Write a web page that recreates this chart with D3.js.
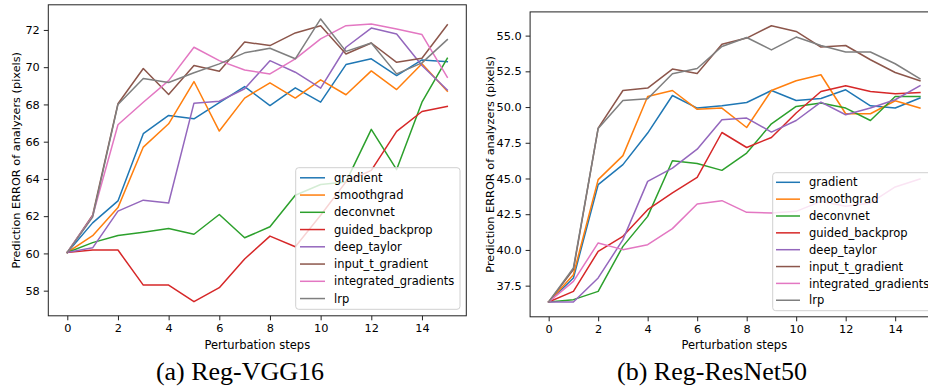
<!DOCTYPE html>
<html>
<head>
<meta charset="utf-8">
<script src="https://cdn.jsdelivr.net/npm/d3@7"></script>
<style>
  html, body { margin: 0; padding: 0; background: #fff; }
  svg { display: block; }
  text { font-family: "DejaVu Sans", sans-serif; fill: #000; }
</style>
</head>
<body>
<svg id="chart" width="928" height="389"></svg>
<script>
// ---------------- DATA ----------------
const steps = [0, 1, 2, 3, 4, 5, 6, 7, 8, 9, 10, 11, 12, 13, 14, 15];
const methods = ["gradient", "smoothgrad", "deconvnet", "guided_backprop",
                 "deep_taylor", "input_t_gradient", "integrated_gradients", "lrp"];
const colors = ["#1f77b4", "#ff7f0e", "#2ca02c", "#d62728",
                "#9467bd", "#8c564b", "#e377c2", "#7f7f7f"];

// (a) Reg-VGG16
const vggGradient   = [60.05, 61.64, 62.82, 66.43, 67.41, 67.23, 68.10, 68.96, 67.94, 68.89, 68.12, 70.14, 70.45, 69.55, 70.39, 70.30];
const vggSmoothgrad = [60.05, 60.95, 62.46, 65.71, 66.96, 69.23, 66.57, 68.34, 69.16, 68.34, 69.32, 68.52, 69.80, 68.80, 70.18, 68.71];
const vggDeconvnet  = [60.05, 60.58, 60.96, 61.14, 61.34, 61.03, 62.09, 60.84, 61.43, 63.12, 63.70, 63.84, 66.66, 64.50, 68.12, 70.48];
const vggGuided     = [60.05, 60.18, 60.18, 58.30, 58.30, 57.41, 58.16, 59.70, 60.93, 60.36, 62.05, 63.84, 64.46, 66.55, 67.62, 67.89];
const vggDeepTaylor = [60.05, 60.30, 62.27, 62.86, 62.71, 68.07, 68.17, 68.84, 70.35, 69.73, 68.87, 71.07, 72.10, 71.78, 70.09, 68.78];
const vggInputTGrad = [60.05, 62.05, 68.04, 69.93, 68.53, 70.09, 69.78, 71.35, 71.16, 71.84, 72.23, 70.71, 71.30, 70.26, 70.48, 72.27];
const vggIntegrated = [60.05, 62.00, 66.91, 68.12, 69.28, 71.07, 70.35, 69.85, 69.64, 70.45, 71.52, 72.23, 72.32, 72.05, 71.75, 69.46];
const vggLrp        = [60.05, 61.95, 68.00, 69.39, 69.18, 69.70, 70.18, 70.77, 71.02, 70.45, 72.59, 70.85, 71.30, 69.64, 70.23, 71.48];

// (b) Reg-ResNet50
const resGradient   = [36.36, 38.04, 44.57, 45.97, 48.18, 50.81, 49.93, 50.09, 50.32, 51.16, 50.46, 50.60, 51.21, 50.09, 49.93, 50.63];
const resSmoothgrad = [36.36, 38.27, 44.92, 46.60, 50.74, 51.16, 49.84, 49.93, 48.57, 51.16, 51.84, 52.26, 49.53, 49.53, 50.44, 49.93];
const resDeconvnet  = [36.36, 36.52, 37.10, 40.25, 42.35, 46.24, 46.05, 45.57, 46.78, 48.83, 50.04, 50.28, 49.93, 49.06, 50.74, 50.74];
const resGuided     = [36.36, 37.10, 39.90, 40.95, 42.82, 44.00, 45.08, 48.22, 47.17, 47.87, 49.58, 51.09, 51.49, 51.09, 50.93, 51.02];
const resDeepTaylor = [36.36, 36.36, 38.04, 40.72, 44.80, 45.73, 47.05, 49.11, 49.23, 48.25, 49.06, 50.35, 49.46, 49.93, 50.51, 51.49];
const resInputTGrad = [36.36, 38.62, 48.53, 51.16, 51.33, 52.66, 52.35, 54.40, 54.83, 55.69, 55.29, 54.20, 54.31, 53.31, 52.42, 51.84];
const resIntegrated = [36.36, 37.80, 40.49, 40.02, 40.37, 41.49, 43.22, 43.45, 42.63, 42.59, 42.70, 43.40, 43.05, 43.29, 44.41, 44.97];
const resLrp        = [36.36, 38.74, 48.50, 50.46, 50.58, 52.33, 52.70, 54.24, 54.87, 54.00, 54.90, 54.31, 53.85, 53.85, 53.03, 51.98];

const xTicks = [0, 2, 4, 6, 8, 10, 12, 14];
const vggYTicks = [58, 60, 62, 64, 66, 68, 70, 72];
const resYTicks = [37.5, 40.0, 42.5, 45.0, 47.5, 50.0, 52.5, 55.0];

const xLabel = "Perturbation steps";
const yLabel = "Prediction ERROR of analyzers (pixels)";
const captions = ["(a) Reg-VGG16", "(b) Reg-ResNet50"];

// ---------------- DRAW ----------------
const svg = d3.select("#chart");

const panels = [
  {
    series: [vggGradient, vggSmoothgrad, vggDeconvnet, vggGuided, vggDeepTaylor, vggInputTGrad, vggIntegrated, vggLrp],
    yTicks: vggYTicks, yFmt: d3.format("d"),
    x: d3.scaleLinear().domain([-0.75, 15.75]).range([48.3, 466.3]),
    y: d3.scaleLinear().domain([56.65, 73.35]).range([315.8, 4.8]),
    legend: {x: 295.7, y: 167.7, w: 164.3, h: 141.6, y0: 177.8, dy: 17.25, hx0: 300, hx1: 325, tx: 334},
    yLabelX: 20, caption: captions[0], capX: 240
  },
  {
    series: [resGradient, resSmoothgrad, resDeconvnet, resGuided, resDeepTaylor, resInputTGrad, resIntegrated, resLrp],
    yTicks: resYTicks, yFmt: d3.format(".1f"),
    x: d3.scaleLinear().domain([-0.75, 15.75]).range([530.1, 938.5]),
    y: d3.scaleLinear().domain([35.32, 56.66]).range([316.8, 11.9]),
    legend: {x: 772.7, y: 172.7, w: 170, h: 138, y0: 182.3, dy: 16.85, hx0: 776, hx1: 800, tx: 809},
    yLabelX: 494, caption: captions[1], capX: 712
  }
];

panels.forEach(p => {
  const g = svg.append("g");
  const [x0, x1] = p.x.range();
  const [yb, yt] = p.y.range();

  // lines
  const line = d3.line().x((d, i) => p.x(steps[i])).y(d => p.y(d));
  p.series.forEach((s, k) => {
    g.append("path").datum(s)
      .attr("d", line)
      .attr("fill", "none")
      .attr("stroke", colors[k])
      .attr("stroke-width", 1.5)
      .attr("stroke-linejoin", "round")
      .attr("stroke-linecap", "square");
  });

  // axes
  const xAxis = d3.axisBottom(p.x).tickValues(xTicks).tickSize(4.5).tickPadding(4).tickFormat(d3.format("d"));
  const yAxis = d3.axisLeft(p.y).tickValues(p.yTicks).tickSize(4.5).tickPadding(4).tickFormat(p.yFmt);
  const gx = g.append("g").attr("transform", `translate(0,${yb})`).call(xAxis);
  const gy = g.append("g").attr("transform", `translate(${x0},0)`).call(yAxis);
  [gx, gy].forEach(a => {
    a.select(".domain").remove();
    a.selectAll("line").attr("stroke", "#222").attr("stroke-width", 1);
    a.selectAll("text").style("font-family", "DejaVu Sans").style("font-size", "11.3px").attr("fill", "#000");
  });

  // spines
  g.append("rect").attr("x", x0).attr("y", yt).attr("width", x1 - x0).attr("height", yb - yt)
    .attr("fill", "none").attr("stroke", "#222").attr("stroke-width", 1);

  // legend
  const L = p.legend;
  const lg = g.append("g");
  lg.append("rect").attr("x", L.x).attr("y", L.y).attr("width", L.w).attr("height", L.h)
    .attr("rx", 3).attr("fill", "#fff").attr("fill-opacity", 0.8)
    .attr("stroke", "#d0d0d0").attr("stroke-width", 1);
  methods.forEach((m, k) => {
    const cy = L.y0 + k * L.dy;
    lg.append("line").attr("x1", L.hx0).attr("x2", L.hx1).attr("y1", cy).attr("y2", cy)
      .attr("stroke", colors[k]).attr("stroke-width", 1.5);
    lg.append("text").attr("x", L.tx).attr("y", cy).attr("dy", "0.36em")
      .style("font-size", "11.5px").text(m);
  });

  // axis labels
  g.append("text").attr("x", (x0 + Math.min(x1, 938.5)) / 2).attr("y", 348.5)
    .attr("text-anchor", "middle").style("font-size", "11.5px").text(xLabel);
  g.append("text").attr("transform", `translate(${p.yLabelX},${(yb + yt) / 2}) rotate(-90)`)
    .attr("text-anchor", "middle").style("font-size", "11.3px").text(yLabel);

  // caption
  g.append("text").attr("x", p.capX).attr("y", 380)
    .attr("text-anchor", "middle")
    .style("font-family", "'Liberation Serif', serif").style("font-size", "26px")
    .text(p.caption);
});
</script>
</body>
</html>
